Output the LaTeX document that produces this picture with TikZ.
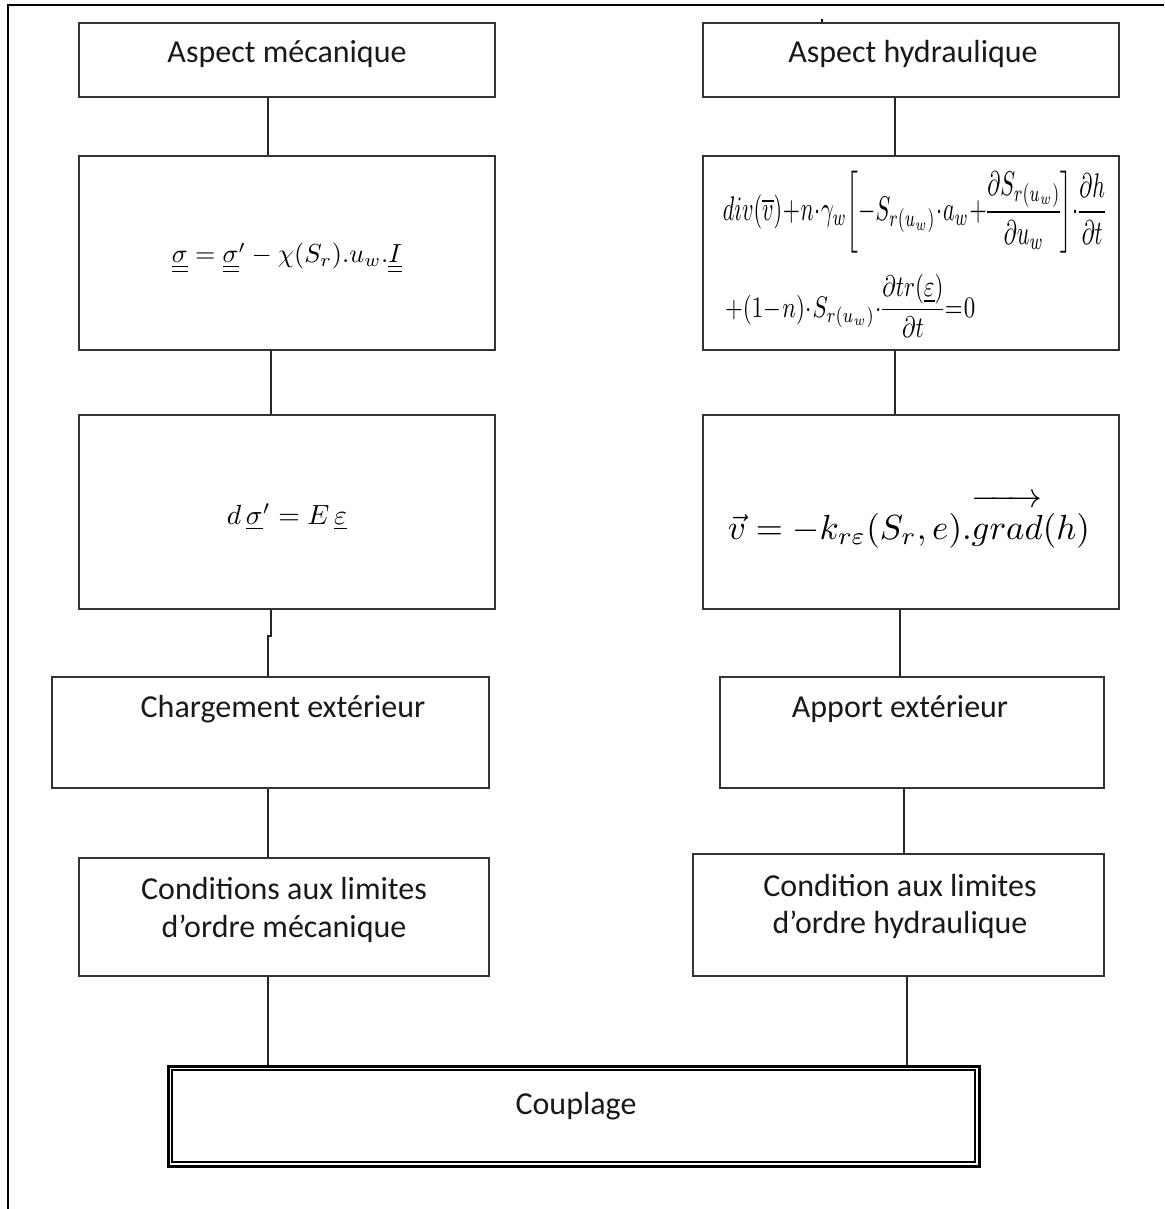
\documentclass[tikz,border=0pt]{standalone}
\usepackage{fontspec}
\setmainfont{Carlito}
\usepackage{amsmath}
\usepackage{graphicx}
\newcommand{\tightmath}{\thinmuskip=0mu\medmuskip=0.5mu\thickmuskip=1mu\nulldelimiterspace=0pt}
\begin{document}
\begin{tikzpicture}[x=1pt,y=-1pt,
  box/.style={draw=black!80, line width=1.6pt, inner sep=0pt},
  conn/.style={draw=black!85, line width=1.6pt},
  lbl/.style={font=\fontsize{32}{38}\selectfont, inner sep=0pt, anchor=base, text=black!90},
  eq/.style={inner sep=0pt}]
\useasboundingbox (0,0) rectangle (1164,1209);
% outer frame
\draw[line width=2pt] (8,1209) -- (8,5) -- (1164,5);
\draw[line width=2pt] (822,19) -- (822,23);
% left column
\node[box, minimum width=416pt, minimum height=74pt]  (m1) at (287,60) {};
\node[box, minimum width=416pt, minimum height=194pt] (m2) at (287,253) {};
\node[box, minimum width=416pt, minimum height=194pt] (m3) at (287,512) {};
\node[box, minimum width=437pt, minimum height=111pt] (m4) at (270.5,732.5) {};
\node[box, minimum width=410pt, minimum height=118pt] (m5) at (284,917) {};
% right column
\node[box, minimum width=416pt, minimum height=74pt]  (h1) at (911,60) {};
\node[box, minimum width=416pt, minimum height=194pt] (h2) at (911,253) {};
\node[box, minimum width=416pt, minimum height=194pt] (h3) at (911,512) {};
\node[box, minimum width=384pt, minimum height=111pt] (h4) at (912,732.5) {};
\node[box, minimum width=411pt, minimum height=122pt] (h5) at (898.5,915) {};
% coupling
\node[draw=black, line width=3pt, minimum width=811pt, minimum height=100pt, inner sep=0pt] (cp) at (573.5,1116) {};
\draw[line width=1.6pt] ([shift={(5.5pt,-5.5pt)}]cp.north west) rectangle ([shift={(-5.5pt,5.5pt)}]cp.south east);
% texts
\node[lbl] (t1) at (287,63) {Aspect mécanique};
\node[lbl] (t2) at (913,63) {Aspect hydraulique};
\node[lbl] (t3) at (283,717) {Chargement extérieur};
\node[lbl] (t4) at (900,717) {Apport extérieur};
\node[lbl] (t5a) at (284,899) {Conditions aux limites};
\node[lbl] (t5b) at (284,937) {d’ordre mécanique};
\node[lbl] (t6a) at (900,896) {Condition aux limites};
\node[lbl] (t6b) at (900,933) {d’ordre hydraulique};
\node[lbl] (t7) at (576,1114) {Couplage};
% equations
\node[eq] (e1) at (287,258) {\resizebox{230pt}{!}{$\underline{\underline{\sigma}} = \underline{\underline{\sigma}}'-\chi(S_r).u_w.\underline{\underline{I}}$}};
\node[eq] (e2) at (287,517) {\resizebox{120pt}{!}{$d\,\underline{\sigma}'=E\,\underline{\varepsilon}$}};
\node[eq] (e3) at (909,521) {\resizebox{362pt}{!}{$\vec{v}=-k_{r\varepsilon}(S_r,e).\overrightarrow{\rule{0pt}{9.2pt}grad}(h)$}};
\node[eq] (e4) at (914,212) {\resizebox{382pt}{!}{\scalebox{1}[1.55]{$\tightmath div(\overline{v})+n\cdot\gamma_w\!\left[-S_{r(u_w)}\cdot a_w+\dfrac{\partial S_{r(u_w)}}{\partial u_w}\right]\!\cdot\dfrac{\partial h}{\partial t}$}}};
\node[eq, anchor=west] (e5) at (725,306) {\resizebox{250pt}{!}{\scalebox{1}[1.3]{$\tightmath +(1-n)\cdot S_{r(u_w)}\cdot\dfrac{\partial tr(\underline{\varepsilon})}{\partial t}=0$}}};
% connectors left
\draw[conn] ([xshift=-19pt]m1.south) -- ([xshift=-19pt]m2.north);
\draw[conn] ([xshift=-16pt]m2.south) -- ([xshift=-16pt]m3.north);
\draw[conn] ([xshift=-16pt]m3.south) -- ++(0,26) -- ++(-3,0) -- ([xshift=-2.5pt]m4.north);
\draw[conn] ([xshift=-2.5pt]m4.south) -- ([xshift=-16pt]m5.north);
\coordinate (c5) at ([xshift=-16pt]m5.south);
\draw[conn] (c5) -- (c5 |- cp.north);
% connectors right
\draw[conn] ([xshift=-16pt]h1.south) -- ([xshift=-16pt]h2.north);
\draw[conn] ([xshift=-16pt]h2.south) -- ([xshift=-16pt]h3.north);
\draw[conn] ([xshift=-11pt]h3.south) -- ([xshift=-12pt]h4.north);
\draw[conn] ([xshift=-8pt]h4.south) -- ([xshift=5.5pt]h5.north);
\coordinate (d5) at ([xshift=8.5pt]h5.south);
\draw[conn] (d5) -- (d5 |- cp.north);
\end{tikzpicture}
\end{document}
